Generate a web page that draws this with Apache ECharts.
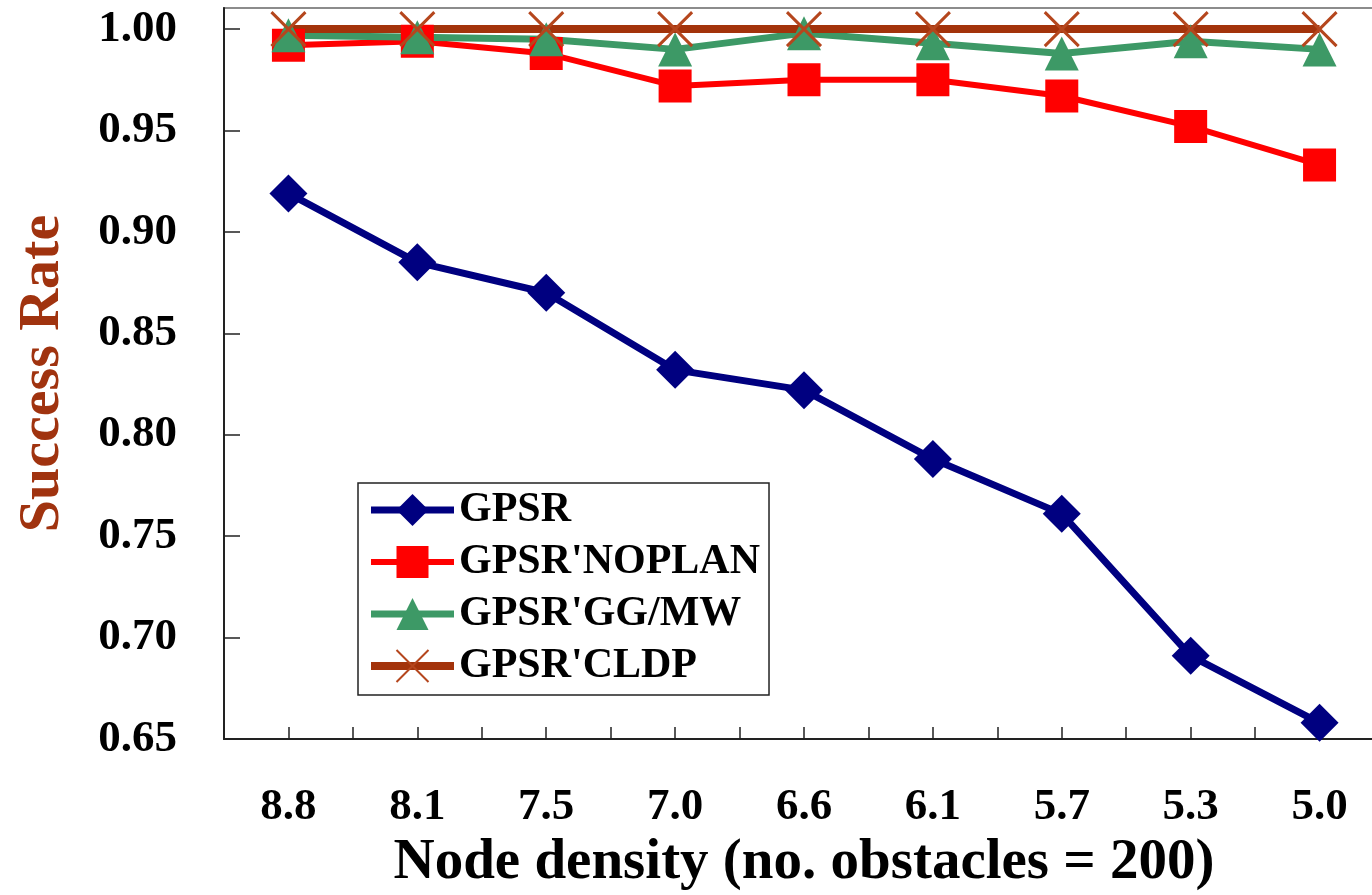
<!DOCTYPE html>
<html>
<head>
<meta charset="utf-8">
<script src="https://cdn.jsdelivr.net/npm/echarts@6/dist/echarts.min.js"></script>
<style>
  html, body { margin: 0; padding: 0; background: #fff; }
  #chart { width: 1372px; height: 895px; }
</style>
</head>
<body>
<div id="chart"></div>
<script>
// node density categories
var categories = ['8.8', '8.1', '7.5', '7.0', '6.6', '6.1', '5.7', '5.3', '5.0']
var gpsr = [0.919, 0.885, 0.870, 0.832, 0.822, 0.788, 0.761, 0.691, 0.658]
var gpsrNoplan = [0.992, 0.994, 0.988, 0.972, 0.975, 0.975, 0.967, 0.952, 0.933]
var gpsrGgmw = [0.997, 0.996, 0.995, 0.990, 0.998, 0.993, 0.988, 0.994, 0.990]
var gpsrCldp = [1.0, 1.0, 1.0, 1.0, 1.0, 1.0, 1.0, 1.0, 1.0]

var font = 'Liberation Serif, Times New Roman, serif'

function toPoints(values) {
  return values.map(function (v, i) { return [i, v] })
}

var mycharts = echarts.init(document.getElementById('chart'))
var option = {
  animation: false,
  grid: {
    left: 224,
    top: 8,
    width: 1160,
    bottom: 156,
    show: true,
    borderColor: '#8c8c8c',
    borderWidth: 2,
    containLabel: false,
    outerBoundsMode: 'none'
  },
  legend: {
    orient: 'vertical',
    left: 358,
    top: 483,
    padding: [6, 9, 8, 9],
    itemWidth: 83,
    itemHeight: 40,
    itemGap: 10,
    backgroundColor: '#fff',
    borderColor: '#222',
    borderWidth: 1.5,
    lineStyle: { width: 'inherit' },
    textStyle: { fontFamily: font, fontWeight: 'bold', fontSize: 42, color: '#000' },
    data: ['GPSR', "GPSR'NOPLAN", "GPSR'GG/MW", "GPSR'CLDP"]
  },
  xAxis: {
    type: 'value',
    min: -0.5,
    max: 8.5,
    interval: 0.5,
    name: 'Node density (no. obstacles = 200)',
    nameLocation: 'middle',
    nameGap: 96,
    nameTextStyle: { fontFamily: font, fontWeight: 'bold', fontSize: 57, color: '#000', verticalAlign: 'top' },
    splitLine: { show: false },
    axisLine: { onZero: false, lineStyle: { color: '#222', width: 2 } },
    axisTick: { inside: true, length: 12, lineStyle: { color: '#222', width: 1.5 } },
    axisLabel: {
      margin: 46,
      fontFamily: font,
      fontWeight: 'bold',
      fontSize: 45,
      color: '#000',
      formatter: function (v) {
        return Number.isInteger(v) ? categories[v] : ''
      }
    }
  },
  yAxis: {
    type: 'value',
    min: 0.65,
    max: 1.0104,
    interval: 0.05,
    name: 'Success Rate',
    nameLocation: 'middle',
    nameGap: 152,
    nameTextStyle: { fontFamily: font, fontWeight: 'bold', fontSize: 58, color: '#a0330f' },
    splitLine: { show: false },
    axisLine: { show: true, onZero: false, lineStyle: { color: '#222', width: 2 } },
    axisTick: { inside: true, length: 16, lineStyle: { color: '#222', width: 1.5 } },
    axisLabel: {
      margin: 47,
      showMaxLabel: false,
      fontFamily: font,
      fontWeight: 'bold',
      fontSize: 45,
      color: '#000',
      formatter: function (v) { return v.toFixed(2) }
    }
  },
  series: [
    {
      name: 'GPSR',
      type: 'line',
      data: toPoints(gpsr),
      symbol: 'diamond',
      symbolSize: 38,
      lineStyle: { color: '#000080', width: 7 },
      itemStyle: { color: '#000080' }
    },
    {
      name: "GPSR'NOPLAN",
      type: 'line',
      data: toPoints(gpsrNoplan),
      symbol: 'rect',
      symbolSize: 33,
      lineStyle: { color: '#ff0000', width: 6 },
      itemStyle: { color: '#ff0000' }
    },
    {
      name: "GPSR'GG/MW",
      type: 'line',
      data: toPoints(gpsrGgmw),
      symbol: 'triangle',
      symbolSize: 34,
      lineStyle: { color: '#3d9966', width: 7 },
      itemStyle: { color: '#3d9966' }
    },
    {
      name: "GPSR'CLDP",
      type: 'line',
      data: toPoints(gpsrCldp),
      symbol: 'path://M0,0L10,10M10,0L0,10',
      symbolSize: 34,
      lineStyle: { color: '#a3330b', width: 8 },
      itemStyle: { color: 'rgba(0,0,0,0)', borderColor: '#b5461d', borderWidth: 3 }
    }
  ]
}
mycharts.setOption(option)
</script>
</body>
</html>
